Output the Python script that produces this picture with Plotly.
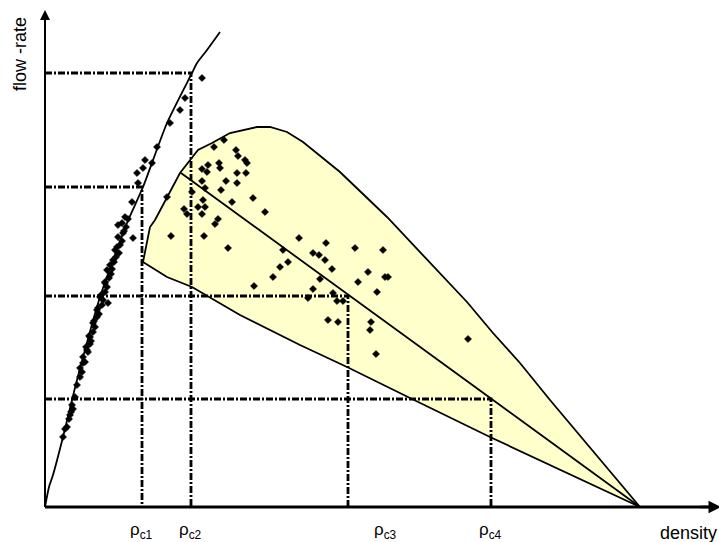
import plotly.graph_objects as go

# ---- data (arbitrary units: density, flow-rate) ----
# free-flow branch curve
ff_curve_density = [0, 4, 8, 18, 27, 32, 55, 82, 98, 122, 147, 152, 162, 175]
ff_curve_flow = [0, 20, 32, 70, 107, 127, 210, 284, 320, 384, 434, 444, 457, 475]

# free-flow measured points
ff_pts_density = [157, 140, 135, 125, 112, 100, 92, 98, 107, 93, 87, 80, 73, 78, 88,
                  72, 68, 62, 60, 55, 63, 52, 48, 45, 42, 38, 35, 32, 27, 25, 22, 18,
                  20, 24, 28, 30, 26,
                  37, 35, 40, 38, 43, 41, 45, 46, 44, 48, 50, 49, 52, 54, 53, 57,
                  58, 56, 60, 62, 60, 64, 66, 67, 65, 69, 71, 74, 70, 75, 77, 73,
                  79, 81, 77, 83]
ff_pts_flow = [429, 409, 397, 384, 360, 347, 334, 339, 344, 324, 305, 290, 282, 274, 269,
               260, 247, 237, 224, 210, 204, 197, 184, 170, 157, 144, 130, 122, 102, 92, 80, 70,
               78, 88, 98, 110, 95,
               135, 139, 145, 150, 155, 160, 163, 166, 171, 175, 180, 186, 190, 193, 199, 202,
               207, 212, 215, 220, 225, 229, 233, 238, 242, 245, 250, 254, 257, 262, 266, 270,
               276, 280, 284, 288]

# synchronized-flow measured points
syn_density = [179, 169, 191, 193, 200, 202, 163, 157, 174, 175, 192, 201, 162, 157, 181,
               192, 160, 176, 147, 122, 208, 187, 158, 160, 153, 139, 142, 157, 220, 173,
               170, 126, 159, 183, 254, 238, 281, 268, 274, 280, 310, 338, 243, 235, 287,
               228, 275, 323, 340, 343, 313, 209, 268, 332, 288, 263, 292, 298, 283, 293,
               326, 325, 331, 423]
syn_flow = [367, 360, 357, 351, 347, 344, 342, 338, 344, 339, 334, 334, 335, 326, 326,
            324, 319, 317, 315, 310, 309, 305, 307, 300, 300, 298, 293, 293, 295, 288,
            283, 271, 271, 259, 269, 257, 264, 254, 252, 247, 259, 257, 245, 240, 238,
            230, 228, 235, 230, 230, 225, 221, 218, 215, 214, 209, 206, 206, 187, 185,
            185, 177, 153, 168]

# synchronized-flow region boundaries
low_density = [98, 122, 147, 195, 255, 302, 365, 445, 595]
low_flow = [245, 230, 220, 192, 162, 140, 109, 70, 0]
up_density = [98, 102, 105, 110, 122, 135, 153, 167, 185, 212, 225, 242, 258, 295,
              342, 368, 422, 448, 475, 505, 595]
up_flow = [245, 264, 280, 287, 310, 334, 357, 364, 374, 380, 380, 375, 365, 335,
           290, 262, 205, 174, 144, 107, 0]

# middle line
mid_density = [136, 595]
mid_flow = [334, 0]

# critical densities / flows
crit_density = [97, 146, 303, 446]
crit_flow = [320, 434, 211, 108]
crit_labels = ["ρ<sub>c1</sub>", "ρ<sub>c2</sub>", "ρ<sub>c3</sub>", "ρ<sub>c4</sub>"]
crit_label_x = [96, 145, 340, 445]

# axis extents
x_end = 674
y_end = 497

fig = go.Figure()

# region fill
poly_x = low_density + up_density[::-1]
poly_y = low_flow + up_flow[::-1]
fig.add_trace(go.Scatter(x=poly_x, y=poly_y, mode="lines", fill="toself",
                         fillcolor="#FFFFCC", line=dict(color="black", width=1.8),
                         hoverinfo="skip"))

# dash-dot guide lines
for d, f in zip(crit_density, crit_flow):
    fig.add_trace(go.Scatter(x=[0, d, d], y=[f, f, 0], mode="lines",
                             line=dict(color="black", width=2.8, dash="7px,2px,2px,2px"),
                             hoverinfo="skip"))

# middle line
fig.add_trace(go.Scatter(x=mid_density, y=mid_flow, mode="lines",
                         line=dict(color="black", width=1.8)))

# free-flow curve
fig.add_trace(go.Scatter(x=ff_curve_density, y=ff_curve_flow, mode="lines",
                         line=dict(color="black", width=1.8, shape="spline", smoothing=0.6)))

# points
marker_style = dict(symbol="diamond", size=5.5, color="black", line=dict(width=0.5, color="black"))
fig.add_trace(go.Scatter(x=ff_pts_density, y=ff_pts_flow, mode="markers", marker=marker_style))
fig.add_trace(go.Scatter(x=syn_density, y=syn_flow, mode="markers", marker=marker_style))

# axes
fig.add_trace(go.Scatter(x=[0, 0], y=[0, y_end - 8], mode="lines",
                         line=dict(color="black", width=2)))
fig.add_trace(go.Scatter(x=[0, x_end - 6], y=[0, 0], mode="lines",
                         line=dict(color="black", width=3)))

annotations = [
    dict(x=0, y=y_end, ax=0, ay=y_end - 20, xref="x", yref="y", axref="x", ayref="y",
         text="", showarrow=True, arrowhead=2, arrowsize=1, arrowwidth=2, arrowcolor="black"),
    dict(x=x_end + 2, y=0, ax=x_end - 20, ay=0, xref="x", yref="y", axref="x", ayref="y",
         text="", showarrow=True, arrowhead=2, arrowsize=1, arrowwidth=2.5, arrowcolor="black"),
    dict(x=x_end, y=-14, text="density", showarrow=False, xanchor="right", yanchor="top",
         font=dict(family="Liberation Sans, Arial", size=18, color="black")),
    dict(x=-25, y=453, text="flow -rate", showarrow=False, textangle=-90,
         xanchor="center", yanchor="middle",
         font=dict(family="Liberation Sans, Arial", size=18, color="black")),
]
for lx, lab in zip(crit_label_x, crit_labels):
    annotations.append(dict(x=lx, y=-11, text=lab, showarrow=False, xanchor="center",
                            yanchor="top",
                            font=dict(family="Liberation Sans, Arial", size=17, color="black")))

fig.update_layout(
    width=719, height=542,
    margin=dict(l=0, r=0, t=0, b=0),
    paper_bgcolor="white", plot_bgcolor="white",
    showlegend=False,
    xaxis=dict(range=[-45, 674], visible=False, fixedrange=True),
    yaxis=dict(range=[-35, 507], visible=False, fixedrange=True),
    annotations=annotations,
)

fig.write_html("out.html", config={"displayModeBar": False})

# remove the default page margin so the figure fills the window exactly
with open("out.html", encoding="utf-8") as fh:
    html = fh.read()
html = html.replace("<head>", "<head><style>html,body{margin:0;padding:0;overflow:hidden;}</style>", 1)
with open("out.html", "w", encoding="utf-8") as fh:
    fh.write(html)
